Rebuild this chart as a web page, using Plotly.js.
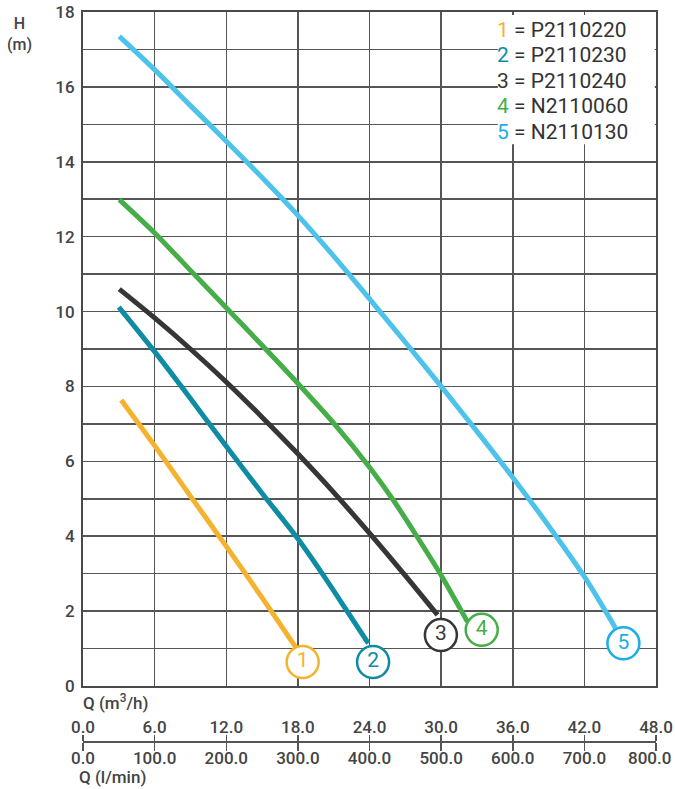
<!DOCTYPE html>
<html>
<head>
<meta charset="utf-8">
<script src="https://cdn.plot.ly/plotly-3.0.1.min.js"></script>
<style>
html,body{margin:0;padding:0;background:#fff;}
#chart{width:675px;height:789px;}
</style>
</head>
<body>
<div id="chart"></div>
<script>
// ---- data (Q in m3/h, H in m) ----
const models = ["P2110220", "P2110230", "P2110240", "N2110060", "N2110130"];
const labels = ["1", "2", "3", "4", "5"];

const q1 = [3.2, 6, 9, 12, 15, 17.9];
const h1 = [7.64, 6.42, 5.07, 3.73, 2.36, 1.0];

const q2 = [3.0, 6, 9, 12, 15, 18, 20, 22, 23.9];
const h2 = [10.12, 8.93, 7.68, 6.4, 5.15, 3.93, 3.02, 2.06, 1.14];

const q3 = [3.04, 6, 9, 12, 15, 18, 21, 24, 27, 29.7];
const h3 = [10.6, 9.83, 9.0, 8.12, 7.18, 6.2, 5.17, 4.08, 2.95, 1.9];

const q4 = [3.04, 6, 9, 12, 15, 18, 21, 24, 26, 28, 30, 31.6, 32.2];
const h4 = [12.99, 12.1, 11.1, 10.1, 9.1, 8.08, 7.02, 5.84, 4.96, 3.98, 2.96, 2.06, 1.72];

const q5 = [3.04, 6, 9, 12, 15, 18, 21, 24, 27, 30, 33, 36, 39, 42, 44.6];
const h5 = [17.35, 16.46, 15.5, 14.55, 13.58, 12.57, 11.48, 10.34, 9.18, 8.0, 6.8, 5.57, 4.28, 2.92, 1.55];

// badge (circle label) anchor values
const badgeQ = [18.4, 24.3, 29.98, 33.4, 45.27];
const badgeH = [0.64, 0.64, 1.36, 1.5, 1.14];

// axis ticks
const qTicks = [0, 6, 12, 18, 24, 30, 36, 42, 48];
const lminTicks = [0, 100, 200, 300, 400, 500, 600, 700, 800];
const hLabelTicks = [0, 2, 4, 6, 8, 10, 12, 14, 16, 18];

// ---- styles ----
const lineColors = ["#F5B22F", "#0E8CA4", "#363636", "#45AE48", "#4DC2EA"];
const badgeColors = ["#F5B22F", "#0E8CA4", "#363636", "#45AE48", "#1DAEE6"];
const FONT = "Roboto, 'Open Sans', sans-serif";
const GRID = "#555555";
const TXT = "#444444";

const Qs = [q1, q2, q3, q4, q5];
const Hs = [h1, h2, h3, h4, h5];

const traces = [];
for (let i = 0; i < 5; i++) {
  traces.push({
    type: "scatter", mode: "lines",
    x: Qs[i], y: Hs[i],
    line: {color: lineColors[i], width: 5, shape: "spline", smoothing: 0.8},
    hoverinfo: "skip", showlegend: false
  });
}
traces.push({
  type: "scatter", mode: "markers+text",
  x: badgeQ, y: badgeH, text: labels,
  textposition: "middle center",
  textfont: {family: FONT, size: 21, color: badgeColors},
  marker: {size: 32, color: "#ffffff", line: {color: badgeColors, width: 2.5}},
  cliponaxis: false, hoverinfo: "skip", showlegend: false
});
// invisible helpers so the secondary axes render
traces.push({type: "scatter", mode: "none", x: [qTicks[0], qTicks[qTicks.length-1]], y: [0, 0], xaxis: "x2", yaxis: "y", hoverinfo: "skip", showlegend: false});
traces.push({type: "scatter", mode: "none", x: [lminTicks[0], lminTicks[lminTicks.length-1]], y: [0, 0], xaxis: "x3", yaxis: "y", hoverinfo: "skip", showlegend: false});

// tick label texts; the last l/min label is drawn separately, nudged inward so it stays inside the canvas
const qTickText = qTicks.map(v => v.toFixed(1));
const lastLmin = lminTicks[lminTicks.length - 1];
const lminTickText = lminTicks.map((v, i) => i === lminTicks.length - 1 ? " " : v.toFixed(1));

// layout geometry
const W = 675, Hh = 789;
const M = {l: 83, r: 19, t: 12, b: 20};
const plotH = Hh - M.t - M.b;
const yBottomPx = 686;
const secAxisPx = 741;
const yDomLow = (Hh - M.b - yBottomPx) / plotH;
const secPos = (Hh - M.b - secAxisPx) / plotH;
const pyPaper = px => (Hh - M.b - px) / plotH;
const pxPaper = px => (px - M.l) / (W - M.l - M.r);

const annotations = [];
const legendTop = 17.52, legendStep = 0.68;
for (let i = 0; i < 5; i++) {
  annotations.push({
    xref: "x", yref: "y", x: 34.5, y: legendTop - i * legendStep,
    xanchor: "left", yanchor: "middle", showarrow: false,
    text: '<span style="color:' + badgeColors[i] + '">' + labels[i] + '</span> = ' + models[i],
    font: {family: FONT, size: 21, color: "#333333"}
  });
}
annotations.push({xref: "paper", yref: "paper", x: pxPaper(19), y: pyPaper(34), xanchor: "center", yanchor: "middle",
  showarrow: false, text: "H<br>(m)", font: {family: FONT, size: 16, color: TXT, weight: 500}});
annotations.push({xref: "paper", yref: "paper", x: pxPaper(81), y: pyPaper(702), xanchor: "left", yanchor: "middle",
  showarrow: false, text: "Q (m<sup>3</sup>/h)", font: {family: FONT, size: 17, color: TXT, weight: 500}});
annotations.push({xref: "paper", yref: "paper", x: pxPaper(77), y: pyPaper(777), xanchor: "left", yanchor: "middle",
  showarrow: false, text: "Q (l/min)", font: {family: FONT, size: 17, color: TXT, weight: 500}});
annotations.push({xref: "paper", yref: "paper", x: pxPaper(673), y: pyPaper(758), xanchor: "right", yanchor: "middle",
  showarrow: false, text: lastLmin.toFixed(1), font: {family: FONT, size: 17, color: TXT, weight: 500}});

const layout = {
  width: W, height: Hh,
  margin: M,
  paper_bgcolor: "#ffffff", plot_bgcolor: "#ffffff",
  showlegend: false,
  font: {family: FONT, color: TXT},
  xaxis: {
    domain: [0, 1], anchor: "y", range: [0, 48], tickvals: qTicks,
    showticklabels: false, ticks: "",
    showgrid: true, gridcolor: GRID, gridwidth: 1.5,
    showline: true, mirror: true, linecolor: "#4a4a4a", linewidth: 2,
    zeroline: false, fixedrange: true
  },
  yaxis: {
    domain: [yDomLow, 1], anchor: "x", range: [0, 18],
    tickvals: hLabelTicks,
    ticks: "outside", ticklen: 0, ticklabelstandoff: 3,
    tickfont: {family: FONT, size: 17, color: TXT, weight: 500},
    showgrid: true, gridcolor: GRID, gridwidth: 1.5,
    minor: {dtick: 1, tick0: 0, showgrid: true, gridcolor: GRID, gridwidth: 1.5, ticks: ""},
    showline: true, mirror: true, linecolor: "#4a4a4a", linewidth: 2,
    zeroline: false, fixedrange: true
  },
  xaxis2: {
    overlaying: "x", anchor: "free", position: secPos, side: "top",
    range: [0, 48], tickvals: qTicks, ticktext: qTickText,
    ticks: "outside", ticklen: 6, tickwidth: 1.5, tickcolor: "#555",
    ticklabelstandoff: -5, ticklabeloverflow: "allow",
    tickfont: {family: FONT, size: 17, color: TXT, weight: 500},
    showline: true, linecolor: "#555", linewidth: 1.5,
    showgrid: false, zeroline: false, fixedrange: true
  },
  xaxis3: {
    overlaying: "x", anchor: "free", position: secPos, side: "bottom",
    range: [0, 800], tickvals: lminTicks, ticktext: lminTickText,
    ticks: "outside", ticklen: 8, tickwidth: 1.5, tickcolor: "#555",
    ticklabelstandoff: -7, ticklabeloverflow: "allow",
    tickfont: {family: FONT, size: 17, color: TXT, weight: 500},
    showline: true, linecolor: "#555", linewidth: 1.5,
    showgrid: false, zeroline: false, fixedrange: true
  },
  shapes: [{
    type: "rect", xref: "x", yref: "y", layer: "between",
    x0: 34.75, x1: 47.9, y0: 14.47, y1: 17.92,
    fillcolor: "#ffffff", line: {width: 0}
  }],
  annotations: annotations
};

Plotly.newPlot("chart", traces, layout, {displayModeBar: false, staticPlot: true});
</script>
</body>
</html>
